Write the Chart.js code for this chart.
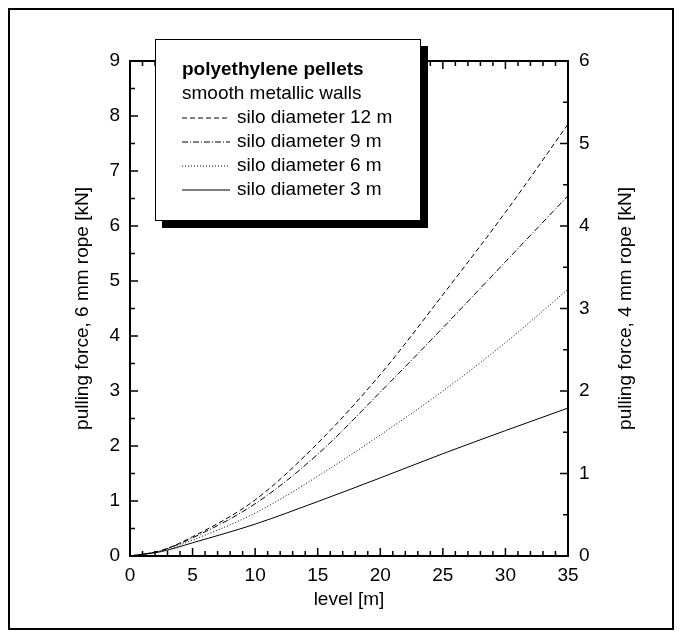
<!DOCTYPE html>
<html>
<head>
<meta charset="utf-8">
<script src="https://cdn.jsdelivr.net/npm/chart.js@4.4.0/dist/chart.umd.min.js"></script>
<style>
    html, body { margin: 0; padding: 0; background: #fff; }
    #wrap { position: relative; width: 681px; height: 637px; }
    #frame { position: absolute; left: 8px; top: 8px; width: 662px; height: 618px; border: 2px solid #000; pointer-events: none; }
    canvas { position: absolute; left: 0; top: 0; }
</style>
</head>
<body>
<div id="wrap">
    <canvas id="lineChart" width="681" height="637"></canvas>
    <div id="frame"></div>
</div>
<script>
// level [m]
var levels = [0, 2.5, 5, 10, 15, 20, 25, 30, 35];
// pulling force, 6 mm rope [kN]
var dia12 = [0, 0.10, 0.35, 1.02, 2.05, 3.30, 4.75, 6.25, 7.85];
var dia9  = [0, 0.10, 0.33, 0.95, 1.85, 2.98, 4.15, 5.35, 6.55];
var dia6  = [0, 0.09, 0.29, 0.78, 1.45, 2.20, 3.00, 3.88, 4.85];
var dia3  = [0, 0.08, 0.24, 0.58, 0.99, 1.42, 1.86, 2.28, 2.69];
var seriesNames = ["silo diameter 12 m", "silo diameter 9 m", "silo diameter 6 m", "silo diameter 3 m"];
var legendTitle = "polyethylene pellets";
var legendSubtitle = "smooth metallic walls";
var rightTitle = "pulling force, 4 mm rope [kN]";
var xTicks = [0, 5, 10, 15, 20, 25, 30, 35];
var yLeftTicks = [0, 1, 2, 3, 4, 5, 6, 7, 8, 9];
var yRightTicks = [0, 1, 2, 3, 4, 5, 6];

var FONT = "'Liberation Sans', Arial, sans-serif";

function toPoints(ys) {
    return levels.map(function (x, i) { return { x: x, y: ys[i] }; });
}

function makeSet(label, ys, dash) {
    return {
        label: label,
        data: toPoints(ys),
        borderColor: '#000',
        borderWidth: 1,
        borderDash: dash,
        pointRadius: 0,
        fill: false,
        cubicInterpolationMode: 'monotone',
        yAxisID: 'y'
    };
}

// inward ticks, frame, right title and the boxed legend
var decorPlugin = {
    id: 'decor',
    afterDraw: function (chart) {
        var ctx = chart.ctx;
        var a = chart.chartArea;
        var sx = chart.scales.x, sy = chart.scales.y, sy2 = chart.scales.y2;
        ctx.save();
        ctx.strokeStyle = '#000';
        ctx.lineWidth = 2;
        ctx.strokeRect(a.left, a.top, a.right - a.left, a.bottom - a.top);

        ctx.lineWidth = 1.5;
        ctx.beginPath();
        for (var v = sx.min; v <= sx.max; v += 1) {
            var px = sx.getPixelForValue(v);
            var len = (v % 5 === 0) ? 8 : 5;
            ctx.moveTo(px, a.bottom); ctx.lineTo(px, a.bottom - len);
            ctx.moveTo(px, a.top); ctx.lineTo(px, a.top + len);
        }
        for (var w = sy.min; w <= sy.max; w += 0.5) {
            var py = sy.getPixelForValue(w);
            var l2 = (w % 1 === 0) ? 8 : 5;
            ctx.moveTo(a.left, py); ctx.lineTo(a.left + l2, py);
        }
        for (var r = sy2.min; r <= sy2.max; r += 0.5) {
            var py2 = sy2.getPixelForValue(r);
            var l3 = (r % 1 === 0) ? 8 : 5;
            ctx.moveTo(a.right, py2); ctx.lineTo(a.right - l3, py2);
        }
        ctx.stroke();

        // right axis title, reading upwards like the left one
        ctx.fillStyle = '#000';
        ctx.font = '19px ' + FONT;
        ctx.textAlign = 'center';
        ctx.textBaseline = 'middle';
        ctx.save();
        ctx.translate(sy2.right - 55, (a.top + a.bottom) / 2);
        ctx.rotate(-Math.PI / 2);
        ctx.fillText(rightTitle, 0, 0);
        ctx.restore();

        // legend box with shadow
        var bx = 155, by = 39, bw = 266, bh = 182;
        ctx.fillStyle = '#000';
        ctx.fillRect(bx + 7, by + 7, bw, bh);
        ctx.fillStyle = '#fff';
        ctx.fillRect(bx, by, bw, bh);
        ctx.lineWidth = 1;
        ctx.strokeRect(bx + 0.5, by + 0.5, bw - 1, bh - 1);

        ctx.fillStyle = '#000';
        ctx.textBaseline = 'middle';
        ctx.textAlign = 'left';
        ctx.font = 'bold 19px ' + FONT;
        ctx.fillText(legendTitle, 182, 70);
        ctx.font = '19px ' + FONT;
        ctx.fillText(legendSubtitle, 182, 94);
        chart.data.datasets.forEach(function (ds, i) {
            var cy = 118 + i * 24;
            ctx.setLineDash(ds.borderDash || []);
            ctx.lineWidth = 1;
            ctx.beginPath();
            ctx.moveTo(182, cy);
            ctx.lineTo(230, cy);
            ctx.stroke();
            ctx.setLineDash([]);
            ctx.fillText(ds.label, 237, cy);
        });
        ctx.restore();
    }
};

var ctxL = document.getElementById("lineChart").getContext('2d');
var chart = new Chart(ctxL, {
    type: 'line',
    data: {
        datasets: [
            makeSet(seriesNames[0], dia12, [5, 3]),
            makeSet(seriesNames[1], dia9, [6, 2, 1, 2]),
            makeSet(seriesNames[2], dia6, [1, 2]),
            makeSet(seriesNames[3], dia3, [])
        ]
    },
    options: {
        responsive: false,
        animation: false,
        layout: { padding: { top: 61, left: 0, right: 0, bottom: 0 } },
        plugins: { legend: { display: false }, tooltip: { enabled: false } },
        scales: {
            x: {
                type: 'linear', position: 'bottom', min: 0, max: 35,
                afterBuildTicks: function (s) { s.ticks = xTicks.map(function (v) { return { value: v }; }); },
                afterFit: function (s) { s.height = 81; },
                grid: { display: false, drawTicks: false },
                border: { display: false },
                ticks: { color: '#000', font: { family: FONT, size: 19 }, padding: 8, maxRotation: 0 },
                title: { display: true, text: 'level [m]', color: '#000', font: { family: FONT, size: 19 }, padding: { top: 0, bottom: 26 } }
            },
            y: {
                type: 'linear', position: 'left', min: 0, max: 9,
                afterBuildTicks: function (s) { s.ticks = yLeftTicks.map(function (v) { return { value: v }; }); },
                afterFit: function (s) { s.width = 130; },
                grid: { display: false, drawTicks: false },
                border: { display: false },
                ticks: { color: '#000', font: { family: FONT, size: 19 }, padding: 10 },
                title: { display: true, text: 'pulling force, 6 mm rope [kN]', color: '#000', font: { family: FONT, size: 19 }, padding: { top: 71, bottom: 0 } }
            },
            y2: {
                type: 'linear', position: 'right', min: 0, max: 6,
                afterBuildTicks: function (s) { s.ticks = yRightTicks.map(function (v) { return { value: v }; }); },
                afterFit: function (s) { s.width = 113; },
                grid: { display: false, drawTicks: false },
                border: { display: false },
                ticks: { color: '#000', font: { family: FONT, size: 19 }, padding: 11 },
                title: { display: false }
            }
        }
    },
    plugins: [decorPlugin]
});
</script>
</body>
</html>
